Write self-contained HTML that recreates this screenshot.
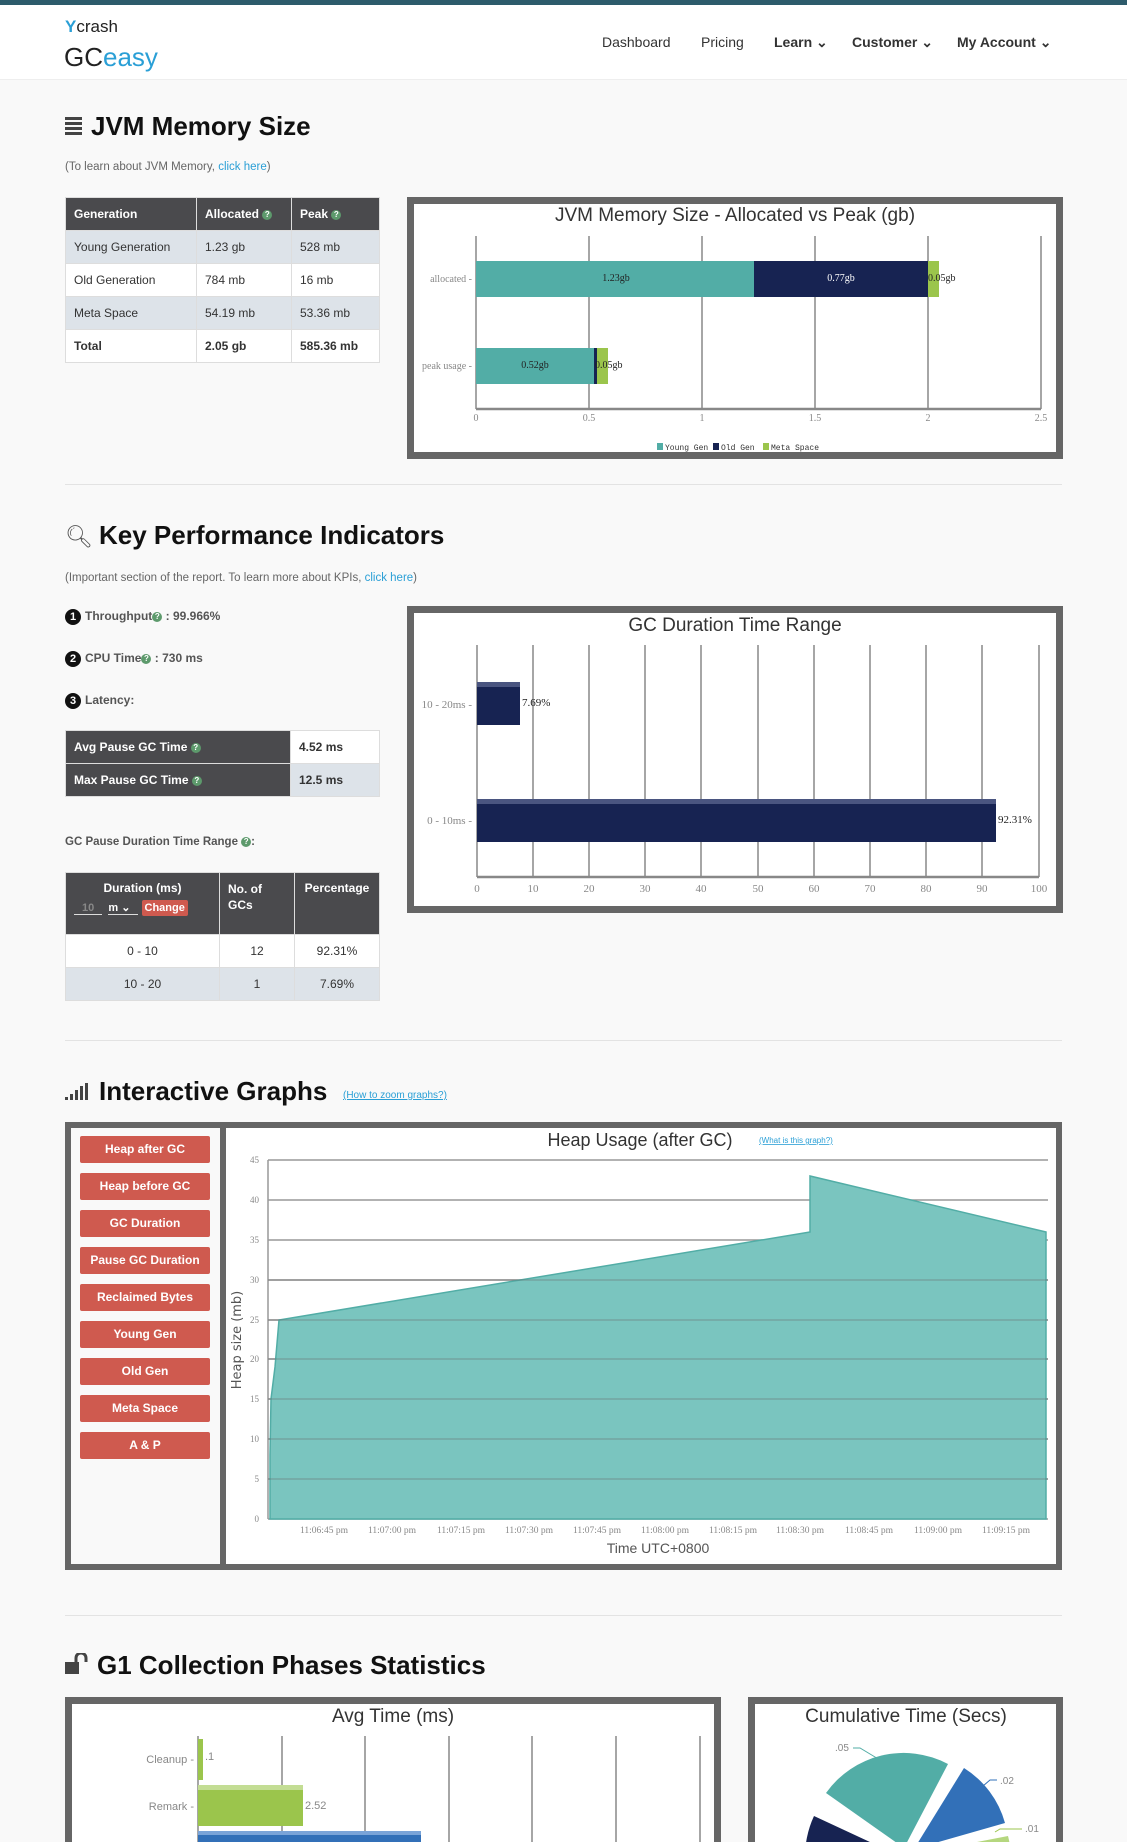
<!DOCTYPE html>
<html style="height:1842px;overflow:hidden"><head><meta charset="utf-8"><style>
*{margin:0;padding:0;box-sizing:border-box}
body{width:1127px;height:1842px;background:#f9f9f9;font-family:"Liberation Sans",Arial,sans-serif;color:#333;position:relative;overflow:hidden}
.a{position:absolute}
.nav{font-size:14px;font-weight:bold;color:#333;top:34px}
h2{position:absolute;font-size:26px;font-weight:bold;color:#111;left:98px}
.sub{position:absolute;font-size:11.5px;color:#666;left:65px}
.sub span{color:#2a9fd6}
table{position:absolute;border-collapse:collapse;font-size:12px}
td{border:1px solid #ddd;padding:0 8px;height:33px}
.hd{background:#4a4a4d;color:#fff;font-weight:bold}
.sh{background:#dde3e9}
.wh{background:#fff}
.q{display:inline-block;width:10px;height:10px;border-radius:50%;background:#5d9a6c;color:#fff;font-size:8px;text-align:center;line-height:10px;vertical-align:middle}
.box{position:absolute;border:7px solid #666;background:#fff}
.sep{position:absolute;left:65px;width:997px;height:1px;background:#e3e3e3}
.kpi{position:absolute;left:65px;font-size:12px;font-weight:bold;color:#555}
.num{display:inline-block;width:16px;height:16px;border-radius:50%;background:#111;color:#fff;font-size:11px;text-align:center;line-height:16px;margin-right:4px}
.btn{position:absolute;left:80px;width:130px;height:27px;background:#cf5a4f;color:#fff;font-size:12px;font-weight:bold;text-align:center;line-height:27px;border-radius:2px}
</style></head><body>
<div class="a" style="left:0;top:0;width:1127px;height:5px;background:#2d5b6b"></div>
<div class="a" style="left:0;top:5px;width:1127px;height:75px;background:#fff;border-bottom:1px solid #eee"></div>
<div class="a" style="left:65px;top:17px;font-size:17px;color:#222"><span style="color:#2a9fd6;font-weight:bold">Y</span>crash</div>
<div class="a" style="left:64px;top:42px;font-size:26px;color:#222">GC<span style="color:#2a9fd6">easy</span></div>
<div class="a nav" style="left:602px;font-weight:normal">Dashboard</div>
<div class="a nav" style="left:701px;font-weight:normal">Pricing</div>
<div class="a nav" style="left:774px">Learn ⌄</div>
<div class="a nav" style="left:852px">Customer ⌄</div>
<div class="a nav" style="left:957px">My Account ⌄</div>

<div class="a" style="left:65px;top:117px;width:17px;height:20px;background:repeating-linear-gradient(#444 0 3px,transparent 3px 5px)"></div>
<h2 style="top:111px;left:91px">JVM Memory Size</h2>
<div class="sub" style="top:161px">(To learn about JVM Memory, <span>click here</span>)</div>
<table style="left:65px;top:197px;width:315px">
<tr class="hd" style="height:32px"><td style="width:131px">Generation</td><td style="width:95px">Allocated <span class="q">?</span></td><td>Peak <span class="q">?</span></td></tr>
<tr class="sh"><td>Young Generation</td><td>1.23 gb</td><td>528 mb</td></tr>
<tr class="wh"><td>Old Generation</td><td>784 mb</td><td>16 mb</td></tr>
<tr class="sh"><td>Meta Space</td><td>54.19 mb</td><td>53.36 mb</td></tr>
<tr class="wh" style="font-weight:bold"><td>Total</td><td>2.05 gb</td><td>585.36 mb</td></tr>
</table>
<div class="box" style="left:407px;top:197px;width:656px;height:262px"></div>
<div class="box" style="left:407px;top:606px;width:656px;height:307px"></div>
<svg class="a" style="left:0;top:0" width="1127" height="1842" font-family="Liberation Serif,serif">
<text x="735" y="221" font-family="Liberation Sans,sans-serif" font-size="19" fill="#333" text-anchor="middle">JVM Memory Size - Allocated vs Peak (gb)</text>
<g stroke="#888" stroke-width="1.5"><line x1="476" y1="236" x2="476" y2="409"/><line x1="589" y1="236" x2="589" y2="409"/><line x1="702" y1="236" x2="702" y2="409"/><line x1="815" y1="236" x2="815" y2="409"/><line x1="928" y1="236" x2="928" y2="409"/><line x1="1041" y1="236" x2="1041" y2="409"/><line x1="476" y1="409" x2="1041" y2="409" stroke-width="2.5"/></g>
<rect x="476" y="261" width="278" height="36" fill="#52ada6"/><rect x="754" y="261" width="174" height="36" fill="#172352"/><rect x="928" y="261" width="11" height="36" fill="#9bc54c"/>
<rect x="476" y="348" width="118" height="36" fill="#52ada6"/><rect x="594" y="348" width="3" height="36" fill="#172352"/><rect x="597" y="348" width="11" height="36" fill="#9bc54c"/>
<g font-size="10" fill="#222"><text x="616" y="281" text-anchor="middle">1.23gb</text><text x="841" y="281" text-anchor="middle" fill="#fff">0.77gb</text><text x="928" y="281">0.05gb</text><text x="535" y="368" text-anchor="middle">0.52gb</text><text x="595" y="368">0.05gb</text></g>
<g font-size="10" fill="#888" text-anchor="middle"><text x="476" y="421">0</text><text x="589" y="421">0.5</text><text x="702" y="421">1</text><text x="815" y="421">1.5</text><text x="928" y="421">2</text><text x="1041" y="421">2.5</text>
<text x="472" y="282" text-anchor="end">allocated -</text><text x="472" y="369" text-anchor="end">peak usage -</text></g>
<g font-size="8" fill="#333" font-family="Liberation Mono,monospace"><rect x="657" y="443" width="6" height="7" fill="#52ada6"/><text x="665" y="450">Young Gen</text><rect x="713" y="443" width="6" height="7" fill="#172352"/><text x="721" y="450">Old Gen</text><rect x="763" y="443" width="6" height="7" fill="#9bc54c"/><text x="771" y="450">Meta Space</text></g>

<text x="735" y="631" font-family="Liberation Sans,sans-serif" font-size="19" fill="#333" text-anchor="middle">GC Duration Time Range</text>
<g stroke="#888" stroke-width="1.5"><line x1="477" y1="645" x2="477" y2="877"/><line x1="533" y1="645" x2="533" y2="877"/><line x1="589" y1="645" x2="589" y2="877"/><line x1="645" y1="645" x2="645" y2="877"/><line x1="701" y1="645" x2="701" y2="877"/><line x1="758" y1="645" x2="758" y2="877"/><line x1="814" y1="645" x2="814" y2="877"/><line x1="870" y1="645" x2="870" y2="877"/><line x1="926" y1="645" x2="926" y2="877"/><line x1="982" y1="645" x2="982" y2="877"/><line x1="1039" y1="645" x2="1039" y2="877"/><line x1="477" y1="877" x2="1039" y2="877" stroke-width="2.5"/></g>
<rect x="477" y="682" width="43" height="43" fill="#172352"/><rect x="477" y="799" width="519" height="43" fill="#172352"/>
<rect x="477" y="682" width="43" height="5" fill="#4a5580"/><rect x="477" y="799" width="519" height="5" fill="#4a5580"/>
<g font-size="11" fill="#222"><text x="522" y="706">7.69%</text><text x="998" y="823">92.31%</text></g>
<g font-size="11" fill="#888" text-anchor="middle"><text x="477" y="892">0</text><text x="533" y="892">10</text><text x="589" y="892">20</text><text x="645" y="892">30</text><text x="701" y="892">40</text><text x="758" y="892">50</text><text x="814" y="892">60</text><text x="870" y="892">70</text><text x="926" y="892">80</text><text x="982" y="892">90</text><text x="1039" y="892">100</text>
<text x="472" y="708" text-anchor="end">10 - 20ms -</text><text x="472" y="824" text-anchor="end">0 - 10ms -</text></g>
</svg>

<div class="sep" style="top:484px"></div>
<div class="a" style="left:65px;top:524px;font-size:22px;color:#555">🔍︎</div>
<h2 style="top:520px;left:99px">Key Performance Indicators</h2>
<div class="sub" style="top:572px">(Important section of the report. To learn more about KPIs, <span>click here</span>)</div>
<div class="kpi" style="top:609px"><span class="num">1</span>Throughput<span class="q">?</span> : 99.966%</div>
<div class="kpi" style="top:651px"><span class="num">2</span>CPU Time<span class="q">?</span> : 730 ms</div>
<div class="kpi" style="top:693px"><span class="num">3</span>Latency:</div>
<table style="left:65px;top:730px;width:315px">
<tr style="height:32px"><td class="hd" style="width:225px">Avg Pause GC Time <span class="q">?</span></td><td class="wh" style="font-weight:bold">4.52 ms</td></tr>
<tr style="height:32px"><td class="hd">Max Pause GC Time <span class="q">?</span></td><td class="sh" style="font-weight:bold">12.5 ms</td></tr>
</table>
<div class="kpi" style="top:836px;font-size:11.5px">GC Pause Duration Time Range <span class="q">?</span>:</div>
<table style="left:65px;top:872px;width:315px;text-align:center">
<tr class="hd" style="height:62px"><td style="width:154px;vertical-align:top;padding-top:8px">Duration (ms)<div style="margin-top:6px;text-align:left;font-size:11px"><span style="color:#888;border-bottom:1px solid #ddd;padding:0 8px">10</span> &nbsp;<span style="border-bottom:1px solid #ddd;padding-right:8px">m ⌄</span> <span style="background:#cf5a4f;padding:2px 3px;border-radius:2px">Change</span></div></td><td style="width:75px;text-align:left;vertical-align:top;padding-top:8px;line-height:16px">No. of<br>GCs</td><td style="vertical-align:top;padding-top:8px">Percentage</td></tr>
<tr class="wh" style="height:32px"><td>0 - 10</td><td>12</td><td>92.31%</td></tr>
<tr class="sh" style="height:32px"><td>10 - 20</td><td>1</td><td>7.69%</td></tr>
</table>

<div class="sep" style="top:1040px"></div>
<svg class="a" style="left:65px;top:1083px" width="28" height="18"><rect x="0" y="14" width="3" height="3" fill="#444"/><rect x="5" y="11" width="3" height="6" fill="#444"/><rect x="10" y="7" width="3" height="10" fill="#444"/><rect x="15" y="3" width="3" height="14" fill="#444"/><rect x="20" y="0" width="3" height="17" fill="#444"/></svg>
<h2 style="top:1076px;left:99px">Interactive Graphs</h2>
<div class="a" style="left:343px;top:1090px;font-size:10px;color:#2a9fd6;text-decoration:underline">(How to zoom graphs?)</div>
<div class="a" style="left:65px;top:1122px;width:997px;height:448px;background:#666"></div>
<div class="a" style="left:71px;top:1128px;width:149px;height:436px;background:#f9f9f9"></div>
<div class="a" style="left:226px;top:1128px;width:830px;height:436px;background:#fff"></div>
<div class="btn" style="top:1136px">Heap after GC</div>
<div class="btn" style="top:1173px">Heap before GC</div>
<div class="btn" style="top:1210px">GC Duration</div>
<div class="btn" style="top:1247px">Pause GC Duration</div>
<div class="btn" style="top:1284px">Reclaimed Bytes</div>
<div class="btn" style="top:1321px">Young Gen</div>
<div class="btn" style="top:1358px">Old Gen</div>
<div class="btn" style="top:1395px">Meta Space</div>
<div class="btn" style="top:1432px">A &amp; P</div>
<svg class="a" style="left:0;top:0" width="1127" height="1842" font-family="Liberation Serif,serif">
<text x="640" y="1146" font-family="Liberation Sans,sans-serif" font-size="18" fill="#333" text-anchor="middle">Heap Usage (after GC)</text>
<text x="759" y="1143" font-family="Liberation Sans,sans-serif" font-size="8" fill="#2a9fd6" text-decoration="underline">(What is this graph?)</text>
<g stroke="#999" stroke-width="1.5"><line x1="268" y1="1160" x2="1048" y2="1160"/><line x1="268" y1="1200" x2="1048" y2="1200"/><line x1="268" y1="1240" x2="1048" y2="1240"/><line x1="268" y1="1280" x2="1048" y2="1280"/><line x1="268" y1="1320" x2="1048" y2="1320"/><line x1="268" y1="1359" x2="1048" y2="1359"/><line x1="268" y1="1399" x2="1048" y2="1399"/><line x1="268" y1="1439" x2="1048" y2="1439"/><line x1="268" y1="1479" x2="1048" y2="1479"/><line x1="268" y1="1519" x2="1048" y2="1519"/><line x1="268" y1="1160" x2="268" y2="1519"/></g>
<polygon points="270,1519 270,1455 271,1399 275,1367 279,1320 810,1232 810,1176 1046,1232 1046,1519" fill="#7ac5bf" stroke="#52ada6" stroke-width="1.5"/>
<g stroke="#666" stroke-width="1.5"><line x1="268" y1="1359" x2="1048" y2="1359" stroke-opacity=".35"/><line x1="268" y1="1320" x2="1048" y2="1320" stroke-opacity=".35"/><line x1="268" y1="1280" x2="1048" y2="1280" stroke-opacity=".35"/><line x1="268" y1="1399" x2="1048" y2="1399" stroke-opacity=".35"/><line x1="268" y1="1439" x2="1048" y2="1439" stroke-opacity=".35"/><line x1="268" y1="1479" x2="1048" y2="1479" stroke-opacity=".35"/></g>
<g font-size="9" fill="#888" text-anchor="end"><text x="259" y="1163">45</text><text x="259" y="1203">40</text><text x="259" y="1243">35</text><text x="259" y="1283">30</text><text x="259" y="1323">25</text><text x="259" y="1362">20</text><text x="259" y="1402">15</text><text x="259" y="1442">10</text><text x="259" y="1482">5</text><text x="259" y="1522">0</text></g>
<g font-size="9.5" fill="#888" text-anchor="middle"><text x="324" y="1533">11:06:45 pm</text><text x="392" y="1533">11:07:00 pm</text><text x="461" y="1533">11:07:15 pm</text><text x="529" y="1533">11:07:30 pm</text><text x="597" y="1533">11:07:45 pm</text><text x="665" y="1533">11:08:00 pm</text><text x="733" y="1533">11:08:15 pm</text><text x="800" y="1533">11:08:30 pm</text><text x="869" y="1533">11:08:45 pm</text><text x="938" y="1533">11:09:00 pm</text><text x="1006" y="1533">11:09:15 pm</text></g>
<text x="658" y="1553" font-family="Liberation Sans,sans-serif" font-size="14" fill="#555" text-anchor="middle">Time UTC+0800</text>
<text transform="translate(241,1340) rotate(-90)" font-family="DejaVu Sans,sans-serif" font-size="13" fill="#555" text-anchor="middle">Heap size (mb)</text>
</svg>

<div class="sep" style="top:1615px"></div>
<svg class="a" style="left:65px;top:1653px" width="26" height="22"><rect x="0" y="9" width="14" height="12" fill="#444"/><path d="M11 9 V5 a5 5 0 0 1 10 0 V9" stroke="#444" stroke-width="3" fill="none"/></svg>
<h2 style="top:1650px;left:97px">G1 Collection Phases Statistics</h2>
<div class="a" style="left:65px;top:1697px;width:656px;height:145px;border:7px solid #666;border-bottom:none;background:#fff"></div>
<div class="a" style="left:748px;top:1697px;width:315px;height:145px;border:7px solid #666;border-bottom:none;background:#fff"></div>
<svg class="a" style="left:0;top:0" width="1127" height="1842" font-family="Liberation Sans,sans-serif">
<text x="393" y="1722" font-size="19" fill="#333" text-anchor="middle">Avg Time (ms)</text>
<g stroke="#888" stroke-width="1.5"><line x1="198" y1="1736" x2="198" y2="1842"/><line x1="282" y1="1736" x2="282" y2="1842"/><line x1="365" y1="1736" x2="365" y2="1842"/><line x1="449" y1="1736" x2="449" y2="1842"/><line x1="532" y1="1736" x2="532" y2="1842"/><line x1="616" y1="1736" x2="616" y2="1842"/><line x1="700" y1="1736" x2="700" y2="1842"/></g>
<rect x="198" y="1739" width="5" height="41" fill="#9bc54c"/>
<rect x="198" y="1785" width="105" height="41" fill="#9bc54c"/><rect x="198" y="1785" width="105" height="5" fill="#c3dd94"/>
<rect x="198" y="1831" width="223" height="11" fill="#3270b8"/><rect x="198" y="1831" width="223" height="4" fill="#7aa4d8"/>
<g font-size="11" fill="#888"><text x="194" y="1763" text-anchor="end">Cleanup -</text><text x="194" y="1810" text-anchor="end">Remark -</text><text x="205" y="1760">.1</text><text x="305" y="1809">2.52</text></g>
<text x="906" y="1722" font-size="19" fill="#333" text-anchor="middle">Cumulative Time (Secs)</text>
<g transform="translate(908,1852)">
<path d="M0 0 L-78 -55 A95 95 0 0 1 44 -84 Z" fill="#52ada6" transform="translate(-4,-4)"/>
<path d="M0 0 L50 -81 A95 95 0 0 1 91 -26 Z" fill="#3270b8" transform="translate(6,-3)"/>
<path d="M0 0 L93 -18 A95 95 0 0 1 95 20 Z" fill="#b5d77f" transform="translate(7,2)"/>
<path d="M0 0 L-82 48 A95 95 0 0 1 -86 -40 Z" fill="#172352" transform="translate(-8,4)"/>
</g>
<g font-size="10" fill="#888"><text x="835" y="1751">.05</text><text x="1000" y="1784">.02</text><text x="1025" y="1832">.01</text></g>
<path d="M853 1748 H860 L880 1760" stroke="#52ada6" fill="none"/><path d="M997 1780 H990 L976 1792" stroke="#3270b8" fill="none"/><path d="M1022 1829 H1000 L995 1832" stroke="#9bc54c" fill="none"/>
</svg>
</body></html>
